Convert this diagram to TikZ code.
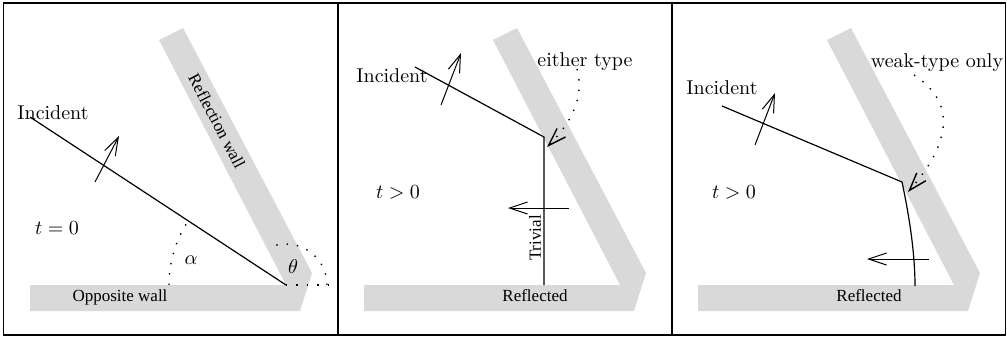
\documentclass[tikz,border=0pt]{standalone}
\usepackage{fontspec}
\newfontfamily\timesf{Liberation Serif}
\usetikzlibrary{arrows.meta}
\definecolor{wallgray}{RGB}{217,217,217}
\newcommand\drawwalls{\fill[wallgray] (30,285) -- (286,285) -- (159,40) -- (183,28) -- (312,273) -- (300,311) -- (30,311) -- cycle;}
\begin{document}
\begin{tikzpicture}[x=0.5pt,y=-0.5pt,
  vec/.style={-{Straight Barb[length=9pt,width=6pt]}, line width=0.5pt},
  ray/.style={line width=0.6pt},
  dots/.style={line width=0.7pt, dash pattern=on 0.7pt off 4.5pt},
  dotvec/.style={dots, -{Straight Barb[length=9pt,width=6pt]}},
  lab/.style={inner sep=0pt, font=\fontsize{10}{12}\selectfont},
  tlab/.style={inner sep=0pt, font=\timesf\fontsize{8.5}{10}\selectfont}]
\useasboundingbox (0,0) rectangle (1007,338);
\fill[white] (0,0) rectangle (1007,338);
% ---------- panel 1 ----------
\begin{scope}
\drawwalls
\coordinate (c1) at (286,285);
\coordinate (s1) at (30,117);
\node[lab] (inc1) at (53,113) {Incident};
\draw[ray] (s1) -- (c1);
\coordinate (a1s) at (95,182);
\coordinate (a1e) at (119,136);
\draw[vec] (a1s) -- (a1e);
\draw[dots] ([shift={(180:58.5pt)}]c1) arc[start angle=180,end angle=147,radius=58.5pt];
\coordinate (h1) at (332,285);
\draw[dots] (c1) -- (h1);
\draw[dots] ([shift={(0:20.5pt)}]c1) arc[start angle=0,end angle=108,radius=20.5pt];
\node[lab] (alpha) at (191,260) {$\alpha$};
\node[lab] (theta) at (293,267) {$\theta$};
\node[lab] (t1) at (57,228) {$t=0$};
\node[tlab, rotate=-62.6] (rw) at (217,121) {Reflection wall};
\node[tlab] (ow) at (120,297) {Opposite wall};
\end{scope}
% ---------- panel 2 ----------
\begin{scope}[shift={(334,0)}]
\drawwalls
\coordinate (j2) at (210,137);
\coordinate (s2) at (81,67);
\coordinate (b2) at (210,285);
\draw[ray] (s2) -- (j2) -- (b2);
\node[lab] (inc2) at (58,76) {Incident};
\coordinate (a2s) at (107,105);
\coordinate (a2e) at (127,53);
\draw[vec] (a2s) -- (a2e);
\node[lab] (et) at (251,62) {either type};
\coordinate (d2s) at (243,69);
\coordinate (d2e) at (213,147);
\draw[dotvec] (d2s) .. controls (250,95) and (240,120) .. (d2e);
\node[lab] (t2) at (64,192) {$t>0$};
\coordinate (h2s) at (235,208);
\coordinate (h2e) at (174,208);
\draw[vec] (h2s) -- (h2e);
\node[tlab, rotate=90] (tr) at (201,238) {Trivial};
\node[tlab] (rf2) at (201,296) {Reflected};
\end{scope}
% ---------- panel 3 ----------
\begin{scope}[shift={(668,0)}]
\drawwalls
\coordinate (j3) at (234,182);
\coordinate (s3) at (54,106);
\coordinate (e3) at (247,286);
\draw[ray] (s3) -- (j3) .. controls (240,210) and (247,250) .. (e3);
\node[lab] (inc3) at (54,88) {Incident};
\coordinate (a3s) at (87,145);
\coordinate (a3e) at (107,93);
\draw[vec] (a3s) -- (a3e);
\node[lab] (wt) at (269,63) {weak-type only};
\coordinate (d3s) at (246,75);
\coordinate (d3e) at (240,192);
\draw[dotvec] (d3s) .. controls (300,110) and (268,160) .. (d3e);
\node[lab] (t3) at (66,192) {$t>0$};
\coordinate (h3s) at (261,259);
\coordinate (h3e) at (199,259);
\draw[vec] (h3s) -- (h3e);
\node[tlab] (rf3) at (201,296) {Reflected};
\end{scope}
% ---------- frame ----------
\draw[line width=0.8pt] (3.5,3) rectangle (1005.5,335);
\draw[line width=0.8pt] (338,3) -- (338,335);
\draw[line width=0.8pt] (672,3) -- (672,335);
\end{tikzpicture}
\end{document}
